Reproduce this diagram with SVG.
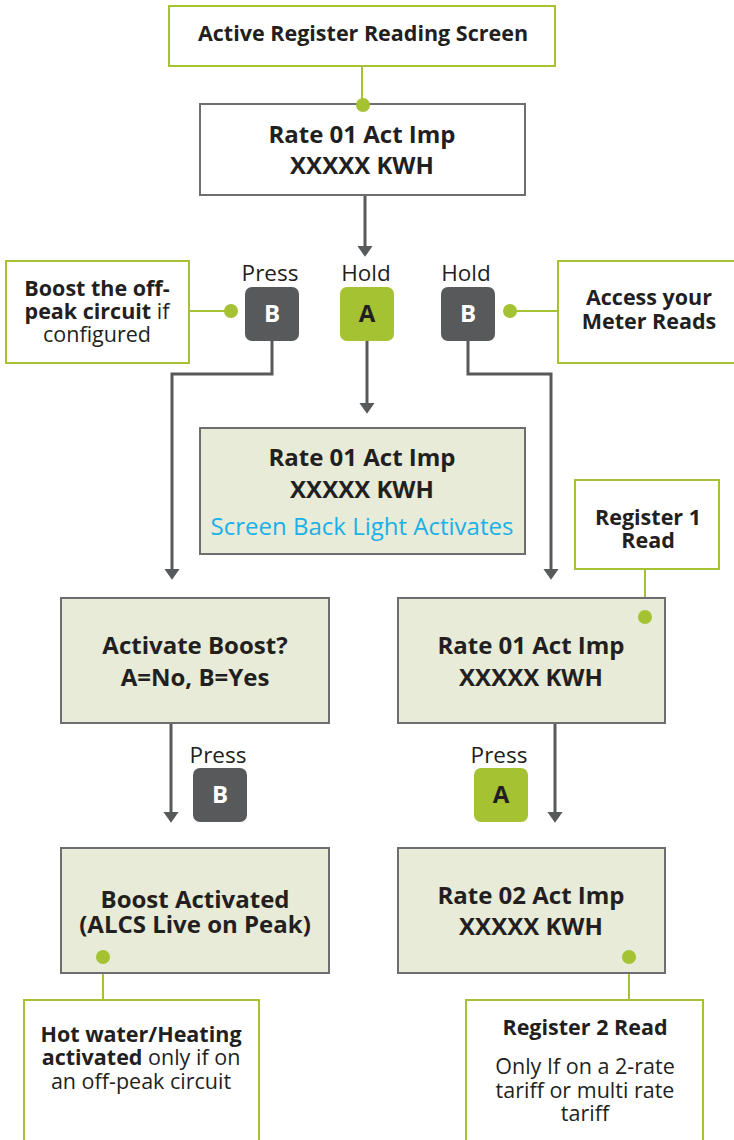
<svg xmlns="http://www.w3.org/2000/svg" width="734" height="1140" viewBox="0 0 734 1140">
<defs>
<style>
text{font-family:"Open Sans","Liberation Sans",sans-serif;fill:#231f20;text-anchor:middle}
.b{font-weight:bold}
.t24{font-size:24px;font-weight:bold}
.t21{font-size:21.5px}
.t22{font-size:22.5px}
.note{fill:#fff;stroke:#a4c232;stroke-width:2}
.scr{fill:#e7ebd7;stroke:#6d6e70;stroke-width:2}
.scrw{fill:#fff;stroke:#6d6e70;stroke-width:2}
.gl{stroke:#a4c232;stroke-width:2;fill:none}
.dot{fill:#a4c232}
.cn{stroke:#58595b;stroke-width:3;fill:none}
.kd{fill:#58595b}
.kg{fill:#a4c232}
.kt{font-size:24px;font-weight:bold}
</style>
<marker id="ah" markerWidth="3.7" markerHeight="5.2" refX="0.1" refY="2.6" orient="auto" markerUnits="strokeWidth" viewBox="0 0 3.7 5.2">
<path d="M0,0 L3.7,2.6 L0,5.2 z" fill="#58595b"/>
</marker>
</defs>

<g id="connectors">
<path class="cn" d="M365,195 V246" marker-end="url(#ah)"/>
<path class="cn" d="M272,341 V374 H172 V569" marker-end="url(#ah)"/>
<path class="cn" d="M367,341 V403" marker-end="url(#ah)"/>
<path class="cn" d="M468,341 V374 H551 V569" marker-end="url(#ah)"/>
<path class="cn" d="M171,723 V812" marker-end="url(#ah)"/>
<path class="cn" d="M555,723 V812" marker-end="url(#ah)"/>
<path class="gl" d="M362,66 V104"/>
<path class="gl" d="M189,311 H231"/>
<path class="gl" d="M510,311 H558"/>
<path class="gl" d="M645,569 V617"/>
<path class="gl" d="M103,957 V1000"/>
<path class="gl" d="M629,957 V1000"/>
</g>

<g id="n-active">
<rect class="note" x="169" y="6" width="386" height="60"/>
<text class="b t21" x="363" y="41">Active Register Reading Screen</text>
</g>

<g id="n-rate01">
<rect class="scrw" x="200" y="104" width="325" height="91"/>
<text class="t24" x="362" y="143">Rate 01 Act Imp</text>
<text class="t24" x="362" y="174">XXXXX KWH</text>
<circle class="dot" cx="363" cy="105" r="7"/>
</g>

<g id="n-boostnote">
<rect class="note" x="6" y="261" width="183" height="102"/>
<text class="t21" x="97" y="296"><tspan class="b">Boost the off-</tspan></text>
<text class="t21" x="97" y="319"><tspan class="b">peak circuit</tspan> if</text>
<text class="t21" x="97" y="342">configured</text>
<circle class="dot" cx="231" cy="311" r="7"/>
</g>

<g id="n-access">
<rect class="note" x="558" y="261" width="180" height="102"/>
<text class="t21 b" x="649" y="305">Access your</text>
<text class="t21 b" x="649" y="329">Meter Reads</text>
<circle class="dot" cx="510" cy="311" r="7"/>
</g>

<g id="k-pressB1">
<text class="t22" x="270" y="281">Press</text>
<rect class="kd" x="245" y="287" width="54" height="54" rx="7"/>
<text class="kt" x="272" y="322" style="fill:#fff">B</text>
</g>

<g id="k-holdA">
<text class="t22" x="366" y="281">Hold</text>
<rect class="kg" x="340" y="287" width="54" height="54" rx="7"/>
<text class="kt" x="367" y="322">A</text>
</g>

<g id="k-holdB">
<text class="t22" x="466" y="281">Hold</text>
<rect class="kd" x="441" y="287" width="54" height="54" rx="7"/>
<text class="kt" x="468" y="322" style="fill:#fff">B</text>
</g>

<g id="n-backlight">
<rect class="scr" x="200" y="428" width="325" height="126"/>
<text class="t24" x="362" y="466">Rate 01 Act Imp</text>
<text class="t24" x="362" y="498">XXXXX KWH</text>
<text x="362" y="535" font-size="24" style="fill:#1bb0e8">Screen Back Light Activates</text>
</g>

<g id="n-reg1">
<rect class="note" x="575" y="480" width="144" height="89"/>
<text class="t21 b" x="648" y="525">Register 1</text>
<text class="t21 b" x="648" y="548">Read</text>
</g>

<g id="n-activate">
<rect class="scr" x="61" y="598" width="268" height="125"/>
<text class="t24" x="195" y="654">Activate Boost?</text>
<text class="t24" x="195" y="686">A=No, B=Yes</text>
</g>

<g id="n-rate01b">
<rect class="scr" x="398" y="598" width="267" height="125"/>
<text class="t24" x="531" y="654">Rate 01 Act Imp</text>
<text class="t24" x="531" y="686">XXXXX KWH</text>
<circle class="dot" cx="645" cy="617" r="7"/>
</g>

<g id="k-pressB2">
<text class="t22" x="218" y="763">Press</text>
<rect class="kd" x="193" y="768" width="54" height="54" rx="7"/>
<text class="kt" x="220" y="803" style="fill:#fff">B</text>
</g>

<g id="k-pressA">
<text class="t22" x="499" y="763">Press</text>
<rect class="kg" x="474" y="768" width="54" height="54" rx="7"/>
<text class="kt" x="501" y="803">A</text>
</g>

<g id="n-boostact">
<rect class="scr" x="61" y="848" width="268" height="125"/>
<text class="t24" x="195" y="908">Boost Activated</text>
<text class="t24" x="195" y="933">(ALCS Live on Peak)</text>
<circle class="dot" cx="103" cy="957" r="7"/>
</g>

<g id="n-rate02">
<rect class="scr" x="398" y="848" width="267" height="125"/>
<text class="t24" x="531" y="904">Rate 02 Act Imp</text>
<text class="t24" x="531" y="935">XXXXX KWH</text>
<circle class="dot" cx="629" cy="957" r="7"/>
</g>

<g id="n-hotwater">
<rect class="note" x="24" y="1000" width="235" height="150"/>
<text class="t21" x="141" y="1042"><tspan class="b">Hot water/Heating</tspan></text>
<text class="t21" x="141" y="1065"><tspan class="b">activated</tspan> only if on</text>
<text class="t21" x="141" y="1089">an off-peak circuit</text>
</g>

<g id="n-reg2">
<rect class="note" x="466" y="1000" width="237" height="150"/>
<text class="t21 b" x="585" y="1035">Register 2 Read</text>
<text class="t21" x="585" y="1074">Only If on a 2-rate</text>
<text class="t21" x="585" y="1098">tariff or multi rate</text>
<text class="t21" x="585" y="1121">tariff</text>
</g>
</svg>
